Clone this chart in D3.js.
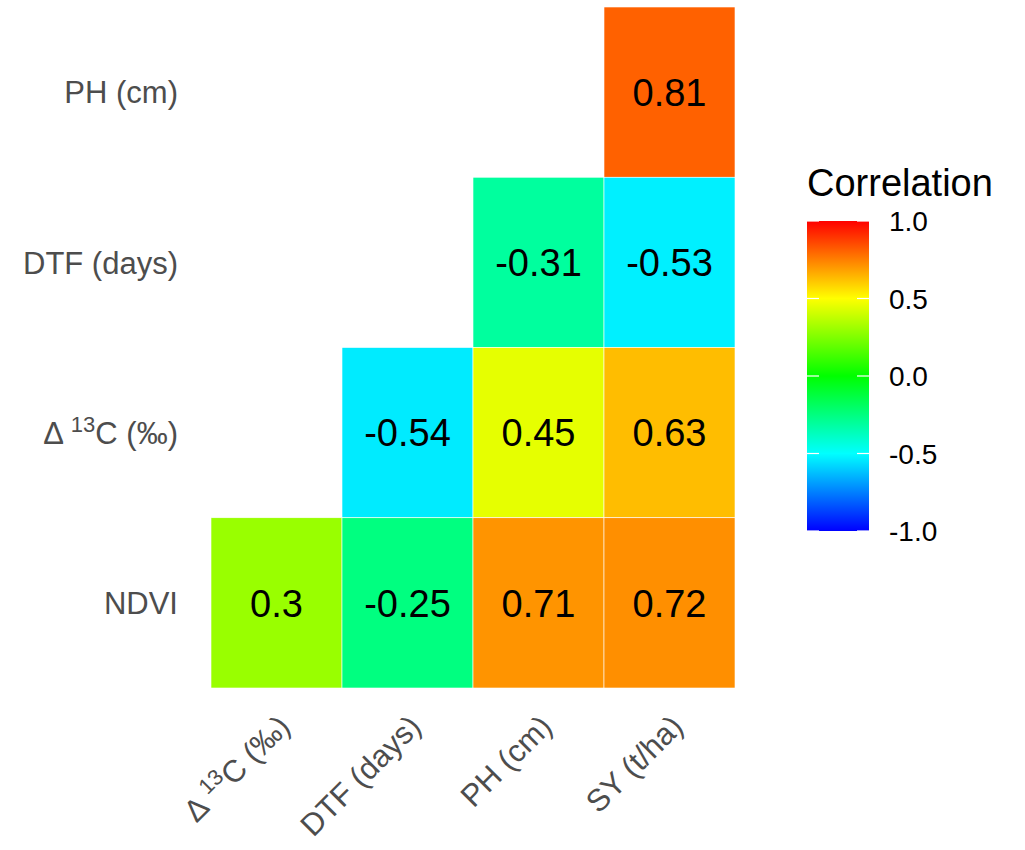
<!DOCTYPE html>
<html><head><meta charset="utf-8">
<script src="https://cdn.jsdelivr.net/npm/d3@7"></script>
<style>body{margin:0;background:#fff;font-family:"Liberation Sans",Arial,sans-serif;}</style>
</head><body>
<svg id="c" width="1025" height="850"></svg>
<script>
const xCats = ["d13C","DTF","PH","SY"];
const yCats = ["PH","DTF","d13C","NDVI"];
const labelMain = {d13C:["Δ","13","C (‰)"], DTF:["DTF (days)"], PH:["PH (cm)"], SY:["SY (t/ha)"], NDVI:["NDVI"]};
const cellX = ["SY","PH","SY","DTF","PH","SY","d13C","DTF","PH","SY"];
const cellY = ["PH","DTF","DTF","d13C","d13C","d13C","NDVI","NDVI","NDVI","NDVI"];
const cellV = [0.81,-0.31,-0.53,-0.54,0.45,0.63,0.3,-0.25,0.71,0.72];
const legendTicks = [1.0,0.5,0.0,-0.5,-1.0];

const svg = d3.select("#c");
const x = d3.scaleBand().domain(xCats).range([211,735]).padding(0);
const y = d3.scaleBand().domain(yCats).range([7,688]).padding(0);
const color = d3.scaleLinear().domain([-1,-0.5,0,0.5,1])
  .range(["#0000FF","#00FFFF","#00FF00","#FFFF00","#FF0000"]);

const cells = cellV.map((v,i)=>({x:cellX[i],y:cellY[i],v}));
svg.selectAll("rect.cell").data(cells).enter().append("rect")
  .attr("x",d=>x(d.x)).attr("y",d=>y(d.y))
  .attr("width",x.bandwidth()).attr("height",y.bandwidth())
  .attr("fill",d=>color(d.v)).attr("stroke","#fff").attr("stroke-width",0.6);
svg.selectAll("text.val").data(cells).enter().append("text")
  .attr("x",d=>x(d.x)+x.bandwidth()/2).attr("y",d=>y(d.y)+y.bandwidth()/2)
  .attr("dy","0.36em").attr("text-anchor","middle")
  .attr("font-size",38).attr("fill","#000").text(d=>String(d.v));

function addLabel(t, parts){
  parts.forEach((p,i)=>{
    const ts = t.append("tspan").text(p);
    if(parts.length===3 && i===0){ ts.text("Δ "); }
    if(parts.length===3 && i===1){ ts.attr("baseline-shift","super").attr("font-size",22); }
  });
}
// y axis labels
yCats.forEach(c=>{
  const t = svg.append("text").attr("x",178).attr("y",y(c)+y.bandwidth()/2)
    .attr("dy","0.36em").attr("text-anchor","end").attr("font-size",31).attr("fill","#4D4D4D");
  addLabel(t,labelMain[c]);
});
// x axis labels
xCats.forEach(c=>{
  const cx = x(c)+x.bandwidth()/2;
  const t = svg.append("text").attr("transform",`translate(${cx},${713}) rotate(-45)`)
    .attr("text-anchor","end").attr("dy","0.7em").attr("font-size",31).attr("fill","#4D4D4D");
  addLabel(t,labelMain[c]);
});

// legend
const lx=807, lw=62, ly0=221, ly1=531;
const ls = d3.scaleLinear().domain([-1,1]).range([ly1,ly0]);
const defs = svg.append("defs");
const g = defs.append("linearGradient").attr("id","grad").attr("x1",0).attr("x2",0).attr("y1",1).attr("y2",0);
[-1,-0.5,0,0.5,1].forEach((v,i)=>g.append("stop").attr("offset",i/4).attr("stop-color",color(v)));
svg.append("rect").attr("x",lx).attr("y",ly0).attr("width",lw).attr("height",ly1-ly0).attr("fill","url(#grad)");
legendTicks.forEach(v=>{
  const yy = ls(v);
  svg.append("line").attr("x1",lx).attr("x2",lx+12).attr("y1",yy).attr("y2",yy).attr("stroke","#fff").attr("stroke-width",1.2);
  svg.append("line").attr("x1",lx+lw-12).attr("x2",lx+lw).attr("y1",yy).attr("y2",yy).attr("stroke","#fff").attr("stroke-width",1.2);
  svg.append("text").attr("x",889).attr("y",yy).attr("dy","0.36em").attr("font-size",28).attr("fill","#000")
    .text(d3.format(".1f")(v).replace("−","-"));
});
svg.append("text").attr("x",807).attr("y",196).attr("font-size",38).attr("fill","#000").text("Correlation");
</script>
</body></html>
